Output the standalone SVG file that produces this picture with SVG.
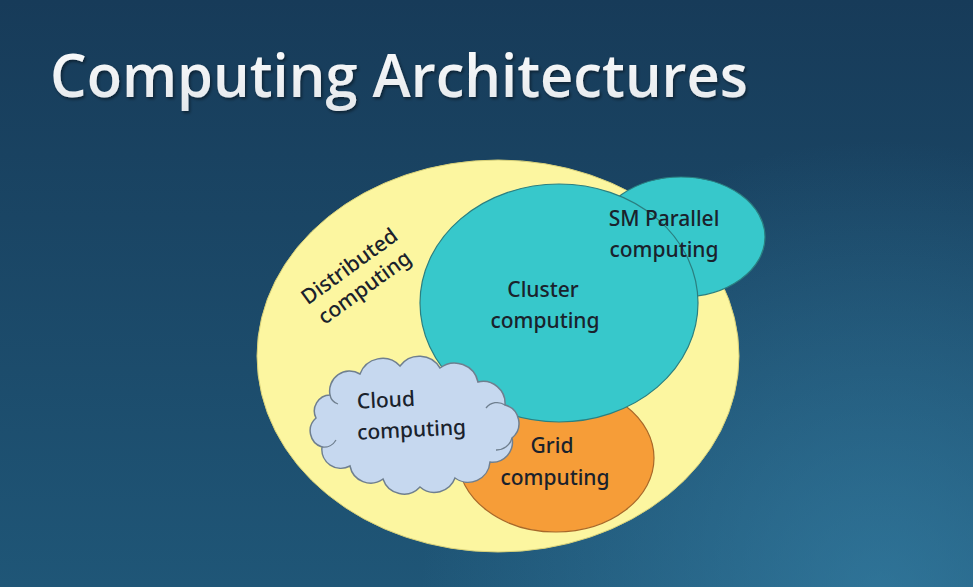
<svg xmlns="http://www.w3.org/2000/svg" width="973" height="587" viewBox="0 0 973 587">
<defs>
<linearGradient id="bg" x1="0" y1="0" x2="0" y2="1">
<stop offset="0" stop-color="#173b59"/>
<stop offset="1" stop-color="#1f5677"/>
</linearGradient>
<radialGradient id="glow" cx="880" cy="600" r="460" gradientUnits="userSpaceOnUse">
<stop offset="0" stop-color="#3a88ae" stop-opacity="0.6"/>
<stop offset="1" stop-color="#3a88ae" stop-opacity="0"/>
</radialGradient>
<linearGradient id="titleFill" x1="0" y1="0" x2="0" y2="1">
<stop offset="0" stop-color="#ffffff"/>
<stop offset="1" stop-color="#e2e6ea"/>
</linearGradient>
<filter id="shadow" x="-5%" y="-20%" width="110%" height="150%">
<feDropShadow dx="1.5" dy="2" stdDeviation="1.5" flood-color="#000" flood-opacity="0.45"/>
</filter>
</defs>
<style>
.lbl{font-family:"Noto Sans","DejaVu Sans",sans-serif;font-size:21px;font-weight:500;fill:#1a222c;text-anchor:middle}
.title{font-family:"Open Sans","Noto Sans",sans-serif;font-weight:600;font-size:60px;fill:url(#titleFill)}
.teal{fill:#37c8cb;stroke:#2b7f80;stroke-width:1.2}
</style>
<rect width="973" height="587" fill="url(#bg)"/>
<rect width="973" height="587" fill="url(#glow)"/>
<text class="title" x="50" y="97" textLength="698" lengthAdjust="spacingAndGlyphs" filter="url(#shadow)">Computing Architectures</text>

<g id="distributed">
<ellipse cx="498" cy="356" rx="241" ry="196" fill="#fcf6a0" stroke="#d9d27a" stroke-width="1"/>
</g>
<g id="grid">
<ellipse cx="556" cy="458" rx="98" ry="74" fill="#f69d38" stroke="#a8682a" stroke-width="1.2"/>
</g>
<g id="sm-parallel">
<ellipse cx="681" cy="237" rx="84" ry="60" class="teal"/>
</g>
<g id="cluster">
<ellipse cx="559" cy="303" rx="139" ry="119" class="teal"/>
</g>
<g id="cloud">
<path d="M330 395 A20 20 0 0 1 360 374 A24 24 0 0 1 400 366 A24 24 0 0 1 440 368 A24 24 0 0 1 478 382 A22 22 0 0 1 505 405 A19 19 0 0 1 512 438 A20 20 0 0 1 490 462 A22 22 0 0 1 455 478 A22 22 0 0 1 420 487 A22 22 0 0 1 383 479 A21 21 0 0 1 350 466 A19 19 0 0 1 322 447 A17 17 0 0 1 316 418 A16 16 0 0 1 330 395 Z" fill="#c6d8ef" stroke="#6f7f8f" stroke-width="1.5"/>
<path d="M486 408 A14 14 0 0 1 505 405 M496 450 A16 16 0 0 0 512 438 M322 447 A14 14 0 0 0 336 440 M330 395 A12 12 0 0 0 338 404" fill="none" stroke="#6f7f8f" stroke-width="1.3"/>
</g>

<g id="labels">
<text class="lbl" transform="translate(357 277) rotate(-36)"><tspan x="0" y="-6">Distributed</tspan><tspan x="0" y="20">computing</tspan></text>
<text class="lbl" x="543" y="297">Cluster</text>
<text class="lbl" x="545" y="328">computing</text>
<text class="lbl" x="664" y="226">SM Parallel</text>
<text class="lbl" x="664" y="257">computing</text>
<text class="lbl" x="552" y="453">Grid</text>
<text class="lbl" x="555" y="485">computing</text>
<g transform="rotate(-3 410 420)">
<text class="lbl" x="387" y="406">Cloud</text>
<text class="lbl" x="411" y="437">computing</text>
</g>
</g>
</svg>
